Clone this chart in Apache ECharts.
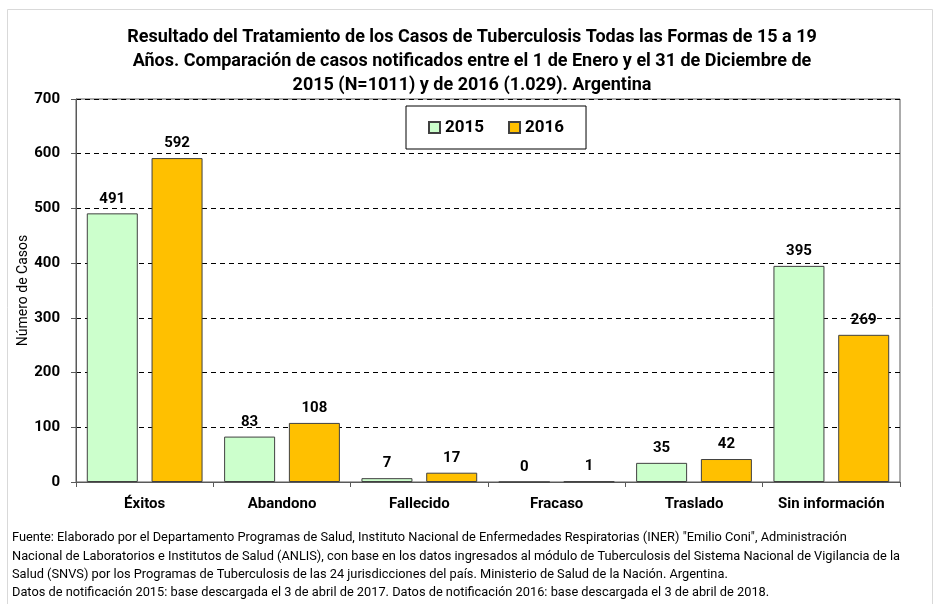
<!DOCTYPE html>
<html>
<head>
<meta charset="utf-8">
<script src="https://cdn.jsdelivr.net/npm/echarts@6/dist/echarts.min.js"></script>
<style>
  html, body { margin: 0; padding: 0; background: #fff; }
  #chart { width: 944px; height: 604px; }
</style>
</head>
<body>
<div id="chart"></div>
<script>
var categories = ['Éxitos', 'Abandono', 'Fallecido', 'Fracaso', 'Traslado', 'Sin información'];
var casos2015 = [491, 83, 7, 0, 35, 395];
var casos2016 = [592, 108, 17, 1, 42, 269];
var yMin = 0, yMax = 700, yStep = 100;

var tituloTexto = 'Resultado del Tratamiento de los Casos de Tuberculosis Todas las Formas de 15 a 19\n' +
    'Años. Comparación de casos notificados entre el 1 de Enero y el 31 de Diciembre de\n' +
    '2015 (N=1011) y de 2016 (1.029). Argentina';
var fuenteTexto = 'Fuente: Elaborado por el Departamento Programas de Salud, Instituto Nacional de Enfermedades Respiratorias (INER) "Emilio Coni", Administración\n' +
    'Nacional de Laboratorios e Institutos de Salud (ANLIS), con base en los datos ingresados al módulo de Tuberculosis del Sistema Nacional de Vigilancia de la\n' +
    'Salud (SNVS) por los Programas de Tuberculosis de las 24 jurisdicciones del país. Ministerio de Salud de la Nación. Argentina.\n' +
    'Datos de notificación 2015: base descargada el 3 de abril de 2017. Datos de notificación 2016: base descargada el 3 de abril de 2018.';

var fuente = 'Roboto, "Noto Sans", sans-serif';
var chart = echarts.init(document.getElementById('chart'));

var etiqueta = {
    show: true,
    position: 'top',
    distance: 7,
    color: '#000',
    fontWeight: 'bold',
    fontSize: 15,
    fontFamily: fuente
};

var option = {
    backgroundColor: '#fff',
    animation: false,
    textStyle: { fontFamily: fuente },
    title: {
        text: tituloTexto,
        left: 'center',
        top: 20,
        textStyle: {
            fontSize: 18,
            fontWeight: 'bold',
            color: '#000',
            lineHeight: 24,
            fontFamily: fuente
        }
    },
    legend: {
        data: ['2015', '2016'],
        left: 406,
        top: 106,
        padding: [13, 22, 13, 22],
        borderColor: '#000',
        borderWidth: 1,
        backgroundColor: '#fff',
        icon: 'rect',
        itemWidth: 11,
        itemHeight: 11,
        itemGap: 24,
        textStyle: {
            fontSize: 17,
            fontWeight: 'bold',
            color: '#000',
            fontFamily: fuente
        }
    },
    grid: {
        left: 76,
        right: 44,
        top: 99,
        bottom: 122,
        show: true,
        borderColor: '#595959',
        borderWidth: 1
    },
    xAxis: {
        type: 'category',
        data: categories,
        axisLine: { lineStyle: { color: '#595959', width: 1 } },
        axisTick: { show: true, length: 5, lineStyle: { color: '#595959' } },
        axisLabel: {
            interval: 0,
            margin: 15,
            color: '#000',
            fontWeight: 'bold',
            fontSize: 15,
            fontFamily: fuente
        }
    },
    yAxis: {
        type: 'value',
        min: yMin,
        max: yMax,
        interval: yStep,
        name: 'Número de Casos',
        nameLocation: 'middle',
        nameRotate: 90,
        nameGap: 46,
        nameMoveOverlap: false,
        nameTextStyle: {
            fontSize: 14,
            color: '#000',
            fontFamily: fuente
        },
        axisLine: { show: true, lineStyle: { color: '#595959', width: 1 } },
        axisTick: { show: true, length: 5, lineStyle: { color: '#595959' } },
        axisLabel: {
            margin: 16,
            color: '#000',
            fontWeight: 'bold',
            fontSize: 15,
            fontFamily: fuente
        },
        splitLine: {
            show: true,
            lineStyle: { color: '#000', type: [5, 4], width: 1 }
        }
    },
    series: [{
        name: '2015',
        type: 'bar',
        data: casos2015,
        barWidth: 51,
        barGap: '27%',
        itemStyle: {
            color: '#CCFFCC',
            borderColor: '#404040',
            borderWidth: 1
        },
        label: etiqueta
    }, {
        name: '2016',
        type: 'bar',
        data: casos2016,
        barWidth: 51,
        itemStyle: {
            color: '#FFC000',
            borderColor: '#404040',
            borderWidth: 1
        },
        label: etiqueta
    }],
    graphic: [{
        type: 'rect',
        z: -1,
        silent: true,
        shape: { x: 7.5, y: 9.5, width: 925, height: 600 },
        style: { fill: 'none', stroke: '#d9d9d9', lineWidth: 1 }
    }, {
        type: 'text',
        left: 12,
        top: 529,
        silent: true,
        style: {
            text: fuenteTexto,
            fontSize: 12.8,
            lineHeight: 18.3,
            fill: '#000',
            fontFamily: fuente
        }
    }]
};

chart.setOption(option);
</script>
</body>
</html>
